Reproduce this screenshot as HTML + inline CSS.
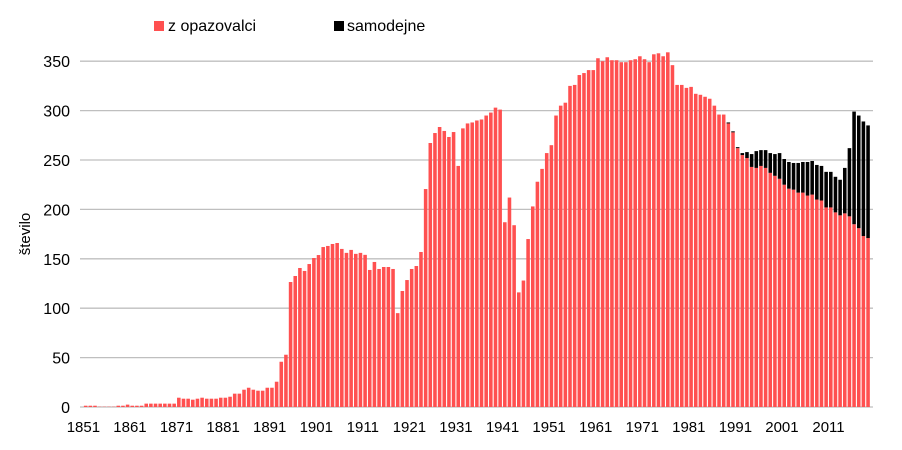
<!DOCTYPE html>
<html><head><meta charset="utf-8"><style>
body{margin:0;background:#fff;}
svg{display:block;font-family:"Liberation Sans",sans-serif;}
</style></head><body>
<svg id="chart" width="902" height="450">
<g id="grid"></g>
<g id="bars"></g>
<g id="yticks"></g>
<g id="xticks"></g>
<text x="30" y="234" transform="rotate(-90 30 234)" text-anchor="middle" font-size="15" fill="#000">število</text>
<g>
<g><rect x="154" y="21" width="10" height="10" fill="#ff5050"/><text x="168" y="31" font-size="16">z opazovalci</text></g>
<g><rect x="334" y="21" width="10" height="10" fill="#000"/><text x="347" y="31" font-size="16">samodejne</text></g>
</g>
</svg>
<script>
const startYear = 1851;
const observers = [1.3,1.3,1.3,0.3,0.3,0.3,0.3,1.3,1.3,2.4,
1.3,1.3,1.3,3.4,3.4,3.4,3.4,3.4,3.4,3.4,
9.4,8.4,8.4,7.4,8.4,9.4,8.4,8.4,8.4,9.4,
9.4,10.4,13.5,13.5,17.5,19.5,17.5,16.5,16.5,19.5,
19.5,25.6,45.8,52.9,126.5,132.6,140.7,137.7,144.7,150.8,
153.8,161.9,163,165,166,160,156,159,155,156,
154,138.7,146.8,139.7,141.7,141.7,139.7,95,117.4,128.5,
139.7,142.7,156.9,220.6,267.2,277.3,283.4,279.4,273.3,278.3,
244,282,287,288,290,291,295,298,303,301,
187,212,184,116,128,170,203,228,241,257,
265,295,305,308,325,326,336,338,341,341,
353,350,354,351,351,349,349,351,352,355,
352,349,357,358,355,359,346,326,326,323,
324,317,316,314,312,305,296,296,287,278,
262,255,252,243,242,244,242,237,234,231,
225,221,220,217,217,214,215,210,209,202,
202,197,194,196,193,185,181,173,171];
const automatic = [0,0,0,0,0,0,0,0,0,0,0,0,0,0,0,0,0,0,0,0,
0,0,0,0,0,0,0,0,0,0,0,0,0,0,0,0,0,0,0,0,
0,0,0,0,0,0,0,0,0,0,0,0,0,0,0,0,0,0,0,0,
0,0,0,0,0,0,0,0,0,0,0,0,0,0,0,0,0,0,0,0,
0,0,0,0,0,0,0,0,0,0,0,0,0,0,0,0,0,0,0,0,
0,0,0,0,0,0,0,0,0,0,0,0,0,0,0,0,0,0,0,0,
0,0,0,0,0,0,0,0,0,0,0,0,0,0,0,0,0,0,1,1,
1,2,6,13,17,16,18,20,22,26,
26,27,27,30,31,34,34,35,35,36,
36,36,36,46,69,114,114,116,114];
const yTicks = [0,50,100,150,200,250,300,350];
const xTickYears = [1851,1861,1871,1881,1891,1901,1911,1921,1931,1941,1951,1961,1971,1981,1991,2001,2011];

const NS='http://www.w3.org/2000/svg';
const x0=83.4, bw=4.657, y0=407, ky=0.988;
const xPos = i => x0 + i*bw;
const yPos = v => y0 - v*ky;
function mk(tag, attrs, parent){const e=document.createElementNS(NS,tag);for(const k in attrs)e.setAttribute(k,attrs[k]);parent.appendChild(e);return e;}
const grid=document.getElementById('grid'), bars=document.getElementById('bars'), yt=document.getElementById('yticks'), xt=document.getElementById('xticks');
yTicks.forEach(v=>{
  const l=mk('line',{x1:80,x2:873,y1:yPos(v),y2:yPos(v),stroke:'#bfbfbf','stroke-width':1.3},grid);
  
  
  const t=mk('text',{x:70,y:yPos(v)+6,'text-anchor':'end','font-size':16,fill:'#000'},yt);
  t.textContent=v;
  
  
});
observers.forEach((v,i)=>{
  const x=xPos(i)+0.5, w=bw-1.1;
  const r=mk('rect',{x:x,y:yPos(v),width:w,height:v*ky,fill:'#ff5050'},bars);
  
  
  const a=automatic[i]||0;
  if(a>0){
    const r2=mk('rect',{x:x,y:yPos(v+a),width:w,height:a*ky,fill:'#000'},bars);
    
    
  }
});
xTickYears.forEach(yr=>{
  const t=mk('text',{x:xPos(yr-startYear),y:432,'text-anchor':'middle','font-size':15,fill:'#000'},xt);
  t.textContent=yr;
  
  
});
</script>
</body></html>
